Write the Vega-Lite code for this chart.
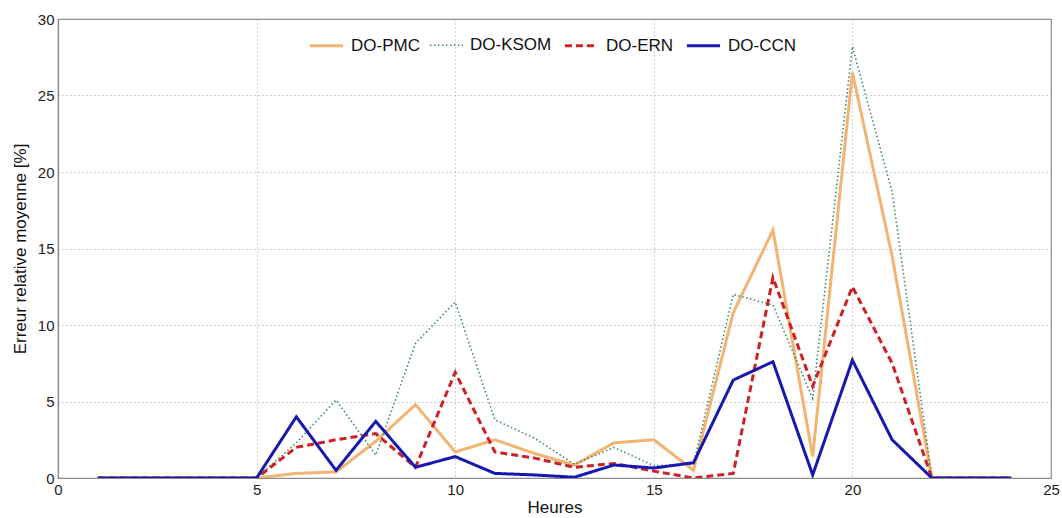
{
  "$schema": "https://vega.github.io/schema/vega-lite/v6.json",
  "autosize": {"type": "none"},
  "padding": {"left": 58, "top": 19, "right": 10, "bottom": 40},
  "width": 993,
  "height": 459,
  "background": "white",
  "config": {
    "font": "Liberation Sans",
    "view": {"stroke": "#8a8a8a", "strokeWidth": 1.2},
    "axis": {
      "domainColor": "#8a8a8a",
      "domainWidth": 1.2,
      "gridColor": "#a0a0a0",
      "gridDash": [1, 3],
      "gridWidth": 1,
      "ticks": false,
      "labelColor": "#222222",
      "labelFont": "Liberation Sans",
      "labelFontSize": 15,
      "titleFont": "Liberation Sans",
      "titleFontSize": 17,
      "titleFontWeight": "normal",
      "titleColor": "#111111"
    }
  },
  "data": {
    "values": [
      {"h": 1, "s": "DO-PMC", "v": 0}, {"h": 2, "s": "DO-PMC", "v": 0}, {"h": 3, "s": "DO-PMC", "v": 0}, {"h": 4, "s": "DO-PMC", "v": 0},
      {"h": 5, "s": "DO-PMC", "v": 0}, {"h": 6, "s": "DO-PMC", "v": 0.3}, {"h": 7, "s": "DO-PMC", "v": 0.4}, {"h": 8, "s": "DO-PMC", "v": 2.4},
      {"h": 9, "s": "DO-PMC", "v": 4.8}, {"h": 10, "s": "DO-PMC", "v": 1.7}, {"h": 11, "s": "DO-PMC", "v": 2.5}, {"h": 12, "s": "DO-PMC", "v": 1.6},
      {"h": 13, "s": "DO-PMC", "v": 0.85}, {"h": 14, "s": "DO-PMC", "v": 2.3}, {"h": 15, "s": "DO-PMC", "v": 2.5}, {"h": 16, "s": "DO-PMC", "v": 0.5},
      {"h": 17, "s": "DO-PMC", "v": 10.8}, {"h": 18, "s": "DO-PMC", "v": 16.2}, {"h": 19, "s": "DO-PMC", "v": 1.4}, {"h": 20, "s": "DO-PMC", "v": 26.5},
      {"h": 21, "s": "DO-PMC", "v": 14.5}, {"h": 22, "s": "DO-PMC", "v": 0}, {"h": 23, "s": "DO-PMC", "v": 0}, {"h": 24, "s": "DO-PMC", "v": 0},

      {"h": 1, "s": "DO-KSOM", "v": 0}, {"h": 2, "s": "DO-KSOM", "v": 0}, {"h": 3, "s": "DO-KSOM", "v": 0}, {"h": 4, "s": "DO-KSOM", "v": 0},
      {"h": 5, "s": "DO-KSOM", "v": 0}, {"h": 6, "s": "DO-KSOM", "v": 2.3}, {"h": 7, "s": "DO-KSOM", "v": 5.1}, {"h": 8, "s": "DO-KSOM", "v": 1.5},
      {"h": 9, "s": "DO-KSOM", "v": 8.8}, {"h": 10, "s": "DO-KSOM", "v": 11.5}, {"h": 11, "s": "DO-KSOM", "v": 3.8}, {"h": 12, "s": "DO-KSOM", "v": 2.6},
      {"h": 13, "s": "DO-KSOM", "v": 0.9}, {"h": 14, "s": "DO-KSOM", "v": 2.0}, {"h": 15, "s": "DO-KSOM", "v": 0.8}, {"h": 16, "s": "DO-KSOM", "v": 0.9},
      {"h": 17, "s": "DO-KSOM", "v": 12.0}, {"h": 18, "s": "DO-KSOM", "v": 11.3}, {"h": 19, "s": "DO-KSOM", "v": 5.2}, {"h": 20, "s": "DO-KSOM", "v": 28.2},
      {"h": 21, "s": "DO-KSOM", "v": 18.7}, {"h": 22, "s": "DO-KSOM", "v": 0}, {"h": 23, "s": "DO-KSOM", "v": 0}, {"h": 24, "s": "DO-KSOM", "v": 0},

      {"h": 1, "s": "DO-ERN", "v": 0}, {"h": 2, "s": "DO-ERN", "v": 0}, {"h": 3, "s": "DO-ERN", "v": 0}, {"h": 4, "s": "DO-ERN", "v": 0},
      {"h": 5, "s": "DO-ERN", "v": 0}, {"h": 6, "s": "DO-ERN", "v": 2.0}, {"h": 7, "s": "DO-ERN", "v": 2.5}, {"h": 8, "s": "DO-ERN", "v": 2.9},
      {"h": 9, "s": "DO-ERN", "v": 0.7}, {"h": 10, "s": "DO-ERN", "v": 6.9}, {"h": 11, "s": "DO-ERN", "v": 1.7}, {"h": 12, "s": "DO-ERN", "v": 1.3},
      {"h": 13, "s": "DO-ERN", "v": 0.7}, {"h": 14, "s": "DO-ERN", "v": 0.95}, {"h": 15, "s": "DO-ERN", "v": 0.45}, {"h": 16, "s": "DO-ERN", "v": 0.0},
      {"h": 17, "s": "DO-ERN", "v": 0.3}, {"h": 18, "s": "DO-ERN", "v": 13.1}, {"h": 19, "s": "DO-ERN", "v": 6.0}, {"h": 20, "s": "DO-ERN", "v": 12.5},
      {"h": 21, "s": "DO-ERN", "v": 7.5}, {"h": 22, "s": "DO-ERN", "v": 0}, {"h": 23, "s": "DO-ERN", "v": 0}, {"h": 24, "s": "DO-ERN", "v": 0},

      {"h": 1, "s": "DO-CCN", "v": 0}, {"h": 2, "s": "DO-CCN", "v": 0}, {"h": 3, "s": "DO-CCN", "v": 0}, {"h": 4, "s": "DO-CCN", "v": 0},
      {"h": 5, "s": "DO-CCN", "v": 0}, {"h": 6, "s": "DO-CCN", "v": 4.0}, {"h": 7, "s": "DO-CCN", "v": 0.5}, {"h": 8, "s": "DO-CCN", "v": 3.7},
      {"h": 9, "s": "DO-CCN", "v": 0.7}, {"h": 10, "s": "DO-CCN", "v": 1.4}, {"h": 11, "s": "DO-CCN", "v": 0.3}, {"h": 12, "s": "DO-CCN", "v": 0.2},
      {"h": 13, "s": "DO-CCN", "v": 0.05}, {"h": 14, "s": "DO-CCN", "v": 0.85}, {"h": 15, "s": "DO-CCN", "v": 0.65}, {"h": 16, "s": "DO-CCN", "v": 1.0},
      {"h": 17, "s": "DO-CCN", "v": 6.4}, {"h": 18, "s": "DO-CCN", "v": 7.6}, {"h": 19, "s": "DO-CCN", "v": 0.2}, {"h": 20, "s": "DO-CCN", "v": 7.7},
      {"h": 21, "s": "DO-CCN", "v": 2.5}, {"h": 22, "s": "DO-CCN", "v": 0}, {"h": 23, "s": "DO-CCN", "v": 0}, {"h": 24, "s": "DO-CCN", "v": 0}
    ]
  },
  "mark": {"type": "line", "clip": true},
  "encoding": {
    "x": {
      "field": "h", "type": "quantitative",
      "scale": {"domain": [0, 25], "nice": false},
      "axis": {"values": [0, 5, 10, 15, 20, 25], "title": "Heures", "labelPadding": 4, "titlePadding": 2, "labelFlush": false}
    },
    "y": {
      "field": "v", "type": "quantitative",
      "scale": {"domain": [0, 30], "nice": false},
      "axis": {"values": [0, 5, 10, 15, 20, 25, 30], "title": "Erreur relative moyenne [%]", "labelPadding": 4, "titlePadding": 8}
    },
    "color": {
      "field": "s", "type": "nominal",
      "scale": {"domain": ["DO-PMC", "DO-KSOM", "DO-ERN", "DO-CCN"], "range": ["#f2b373", "#3f8a66", "#cc2127", "#1818b0"]},
      "legend": {
        "title": null, "orient": "none", "direction": "horizontal",
        "legendX": 250, "legendY": 8,
        "labelFont": "Liberation Sans", "labelFontSize": 17, "labelColor": "#111111",
        "symbolSize": 1100, "symbolStrokeWidth": 2.5, "columnPadding": 6, "labelOffset": 6
      }
    },
    "strokeDash": {
      "field": "s", "type": "nominal",
      "scale": {"domain": ["DO-PMC", "DO-KSOM", "DO-ERN", "DO-CCN"], "range": [[1, 0], [1.5, 2.5], [7, 4], [1, 0]]},
      "legend": null
    },
    "strokeWidth": {
      "field": "s", "type": "nominal",
      "scale": {"type": "ordinal", "domain": ["DO-PMC", "DO-KSOM", "DO-ERN", "DO-CCN"], "range": [3, 1.6, 3, 3]},
      "legend": null
    }
  }
}
